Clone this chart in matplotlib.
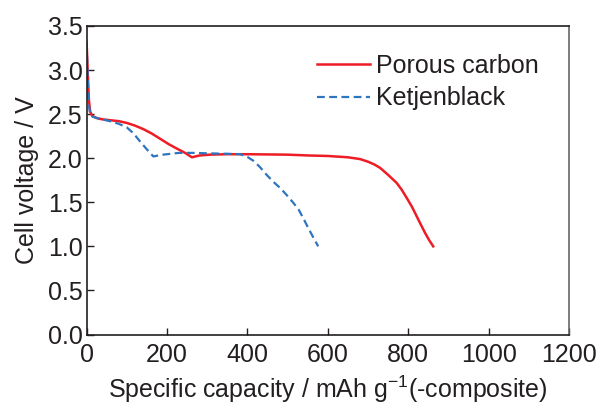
import matplotlib
matplotlib.use('Agg')
import matplotlib.pyplot as plt

plt.rcParams['font.family'] = ['Liberation Sans', 'DejaVu Sans']

# Porous carbon (red solid)
pc_cap = [0, 2, 4, 6, 9, 14, 25, 40, 60, 80, 100, 120, 141, 162, 183, 204, 224, 245, 262,
          280, 307, 350, 400, 500, 556, 600, 650, 680, 700, 715, 730, 750, 771, 784, 796,
          809, 821, 832, 842, 852, 862]
pc_v = [3.32, 3.1, 2.85, 2.65, 2.53, 2.48, 2.455, 2.44, 2.43, 2.42, 2.40, 2.37, 2.33, 2.28,
        2.22, 2.16, 2.11, 2.06, 2.01, 2.03, 2.04, 2.045, 2.045, 2.04, 2.03, 2.025, 2.01,
        1.99, 1.96, 1.93, 1.89, 1.81, 1.72, 1.64, 1.55, 1.45, 1.34, 1.24, 1.15, 1.07, 1.0]

# Ketjenblack (blue dashed)
kb_cap = [0, 2, 4, 6, 9, 15, 30, 58, 80, 100, 117, 133, 150, 166, 190, 230, 266, 300, 349,
          382, 398, 415, 431, 448, 465, 482, 498, 513, 527, 540, 551, 564, 576]
kb_v = [3.30, 3.05, 2.8, 2.6, 2.5, 2.47, 2.45, 2.42, 2.39, 2.35, 2.28, 2.19, 2.10, 2.02,
        2.04, 2.06, 2.06, 2.055, 2.05, 2.045, 2.02, 1.97, 1.90, 1.81, 1.73, 1.66, 1.58,
        1.50, 1.42, 1.31, 1.21, 1.10, 1.0]

text_color = '#231f20'

fig = plt.figure(figsize=(6.01, 4.05), dpi=100)
ax = fig.add_axes([0.144, 0.174, 0.803, 0.762])

ax.plot(pc_cap, pc_v, color='#ee1c25', lw=1.8, label='Porous carbon')
ax.plot(kb_cap, kb_v, color='#2e75c0', lw=1.6, ls=(0, (3.5, 2)), label='Ketjenblack')

ax.set_xlim(0, 1200)
ax.set_ylim(0, 3.5)
ax.set_xticks([0, 200, 400, 600, 800, 1000, 1200])
ax.set_yticks([0.0, 0.5, 1.0, 1.5, 2.0, 2.5, 3.0, 3.5])
ax.set_yticklabels(['0.0', '0.5', '1.0', '1.5', '2.0', '2.5', '3.0', '3.5'])
ax.tick_params(direction='in', length=5, width=1, labelsize=18, colors=text_color)
ax.tick_params(axis='x', pad=6)
ax.tick_params(axis='y', pad=3)
for s in ax.spines.values():
    s.set_linewidth(1.2)
    s.set_color(text_color)
ax.spines['right'].set_color('#666666')

ax.set_xlabel('Specific capacity / mAh g$^{\\mathregular{-1}}$(-composite)', fontsize=18,
              color=text_color, labelpad=5)
ax.set_ylabel('Cell voltage / V', fontsize=18, color=text_color, labelpad=6)

ax.legend(loc='upper right', bbox_to_anchor=(0.978, 0.975), frameon=False, fontsize=18,
          handlelength=2.1, handletextpad=0.25, labelspacing=0.35, borderaxespad=0.4,
          labelcolor=text_color)

fig.savefig('out.png', dpi=100)
